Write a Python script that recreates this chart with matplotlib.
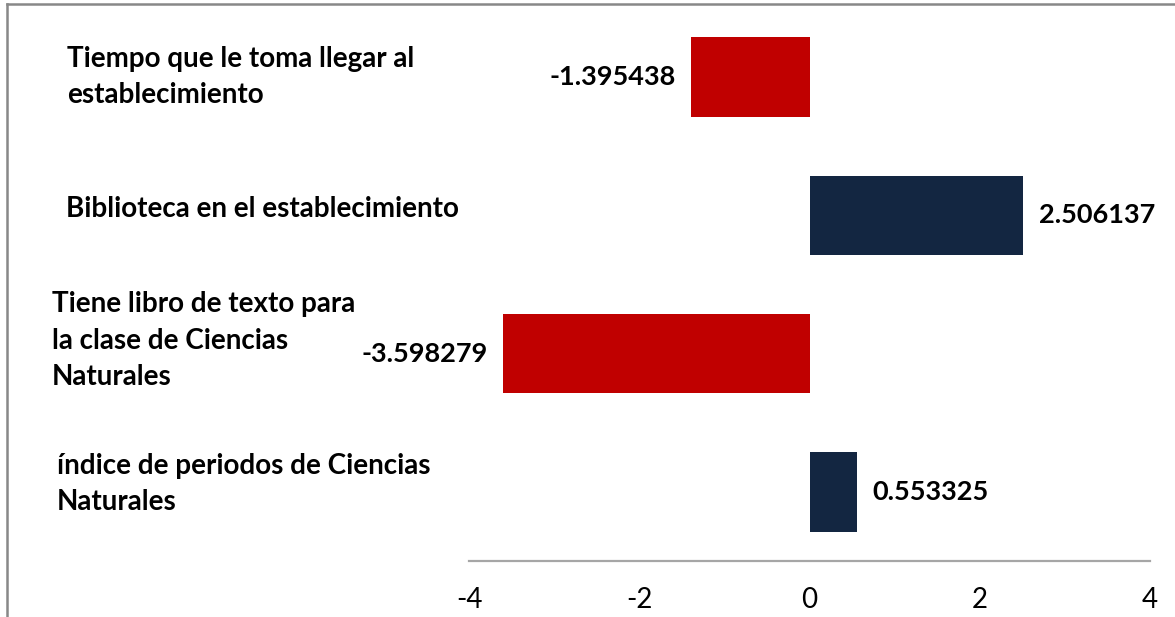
import matplotlib
matplotlib.use("Agg")
import matplotlib.pyplot as plt
from matplotlib.lines import Line2D
import matplotlib.transforms as mtransforms

categories = [
    "Tiempo que le toma llegar al\nestablecimiento",
    "Biblioteca en el establecimiento",
    "Tiene libro de texto para\nla clase de Ciencias\nNaturales",
    "índice de periodos de Ciencias\nNaturales",
]
values = [-1.395438, 2.506137, -3.598279, 0.553325]
value_labels = ["-1.395438", "2.506137", "-3.598279", "0.553325"]
xticks = [-4, -2, 0, 2, 4]
xtick_labels = ["-4", "-2", "0", "2", "4"]

# layout (pixels) for the category labels
label_x_px = [67, 66, 52, 57]
label_dy_px = [0, -6, -13, -8]

RED = "#C00000"
NAVY = "#132641"
W, H = 1175, 617
DPI = 100

plt.rcParams['font.family'] = ['Lato', 'DejaVu Sans']

fig = plt.figure(figsize=(W / DPI, H / DPI), dpi=DPI)
ax = fig.add_axes([469 / W, 1 - 561 / H, (1150 - 469) / W, (561 - 8) / H])

ypos = list(range(len(categories)))
colors = [RED if v < 0 else NAVY for v in values]
ax.barh(ypos, values, height=0.575, color=colors, zorder=2)

ax.set_xlim(-4, 4)
ax.set_ylim(len(categories) - 0.5, -0.5)
ax.set_xticks(xticks)
ax.set_xticklabels(xtick_labels, fontsize=20, color="black")
ax.tick_params(axis="x", length=0, pad=19)
ax.set_yticks([])
for s in ["top", "right", "left"]:
    ax.spines[s].set_visible(False)
ax.spines["bottom"].set_color("#a6a6a6")
ax.spines["bottom"].set_linewidth(1.6)

for y, v, lab in zip(ypos, values, value_labels):
    if v < 0:
        ax.annotate(lab, (v, y), xytext=(-11, 0), textcoords="offset points",
                    ha="right", va="center", fontsize=19.5, fontweight="bold")
    else:
        ax.annotate(lab, (v, y), xytext=(11.5, 0), textcoords="offset points",
                    ha="left", va="center", fontsize=19.5, fontweight="bold")

for y, cat, xp, dy in zip(ypos, categories, label_x_px, label_dy_px):
    trans = mtransforms.blended_transform_factory(fig.transFigure, ax.transData)
    off = mtransforms.offset_copy(trans, fig=fig, x=0, y=-dy, units="dots")
    ax.text(xp / W, y, cat, transform=off, ha="left", va="center",
            fontsize=20, fontweight="bold", linespacing=1.5, clip_on=False)

# figure border (top and left only visible)
fig.add_artist(Line2D([7 / W, 7 / W], [0, 1 - 4 / H], transform=fig.transFigure,
                      color="#888888", linewidth=1.8))
fig.add_artist(Line2D([7 / W, 1], [1 - 4 / H, 1 - 4 / H], transform=fig.transFigure,
                      color="#888888", linewidth=1.8))

fig.savefig("out.png", dpi=DPI, facecolor="white")
